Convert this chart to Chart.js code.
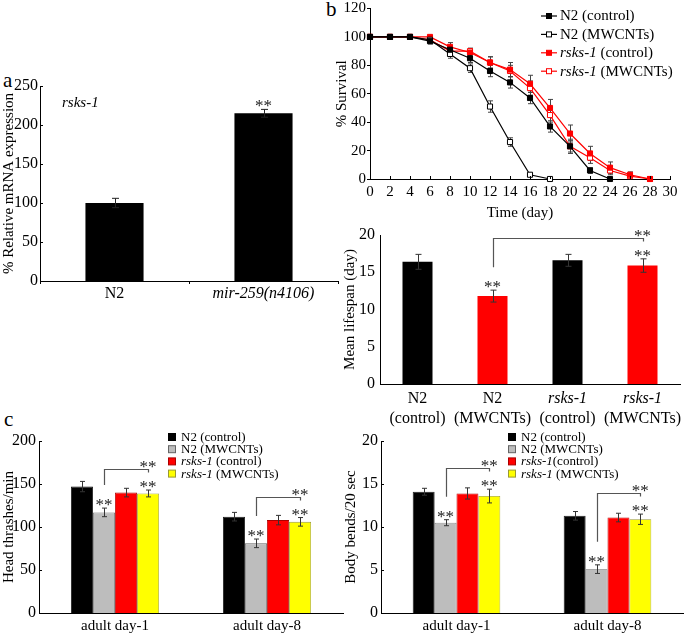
<!DOCTYPE html>
<html><head><meta charset="utf-8">
<script src="https://cdn.jsdelivr.net/npm/chart.js@4.4.1/dist/chart.umd.min.js"></script>
<style>
html,body{margin:0;padding:0;background:#fff;}
body{width:685px;height:636px;position:relative;overflow:hidden;font-family:'Liberation Serif','Times New Roman',serif;}
canvas{position:absolute;}
.lbl{position:absolute;font-size:21px;color:#000;line-height:1;}
</style></head><body>
<div class="lbl" style="left:3px;top:70px">a</div>
<div class="lbl" style="left:326px;top:-1px">b</div>
<div class="lbl" style="left:4px;top:409px">c</div>
<canvas id="cA" width="340" height="240" style="left:0;top:70px"></canvas>
<canvas id="cB1" width="352" height="222" style="left:333px;top:0"></canvas>
<canvas id="cB2" width="345" height="208" style="left:340px;top:222px"></canvas>
<canvas id="cC1" width="345" height="206" style="left:0;top:430px"></canvas>
<canvas id="cC2" width="345" height="206" style="left:340px;top:430px"></canvas>
<script>
// ---------------- DATA ----------------
// Panel a
const aCategories = ['N2', 'mir-259(n4106)'];
const aValues = [100, 215];
const aErrors = [6, 5];
const aSig = [0, 1];

// Panel b (survival curves)
const days = [0, 2, 4, 6, 8, 10, 12, 14, 16, 18, 20, 22, 24, 26, 28];
const survivalNames = ['N2 (control)', 'N2 (MWCNTs)', 'rsks-1 (control)', 'rsks-1 (MWCNTs)'];
const survN2Control    = [100, 100, 100, 97, 91, 85, 76, 68, 57, 37, 23, 6, 0];
const survN2MWCNTs     = [100, 100, 100, 98, 88, 78, 51, 26, 3, 0];
const survRsksControl  = [100, 100, 100, 100, 93, 89, 82, 77, 67, 50, 32, 18, 8, 3, 0];
const survRsksMWCNTs   = [100, 100, 100, 98, 90, 90, 82, 76, 64, 45, 23, 15, 6, 2, 0];
const errN2Control     = [0, 0, 0, 2, 3, 3, 4, 4, 4, 4, 4, 2, 0];
const errN2MWCNTs      = [0, 0, 0, 1, 3, 3, 4, 3, 1, 0];
const errRsksControl   = [0, 0, 0, 1, 3, 3, 4, 5, 6, 6, 6, 5, 4, 2, 0];
const errRsksMWCNTs    = [0, 0, 0, 2, 2, 2, 4, 4, 5, 5, 5, 4, 3, 1, 0];
const survTicks = [0, 120, 20]; // min, max, step (y)
const dayTicks = [0, 30, 2];    // min, max, step (x)

// Panel b (mean lifespan)
const lifespanCategories = [['N2', '(control)'], ['N2', '(MWCNTs)'], ['rsks-1', '(control)'], ['rsks-1', '(MWCNTs)']];
const lifespanValues = [16.4, 11.8, 16.6, 15.9];
const lifespanErrors = [1.0, 0.8, 0.8, 0.9];
const lifespanSig = [0, 1, 0, 1];
const lifespanBrackets = [[[0, 1], [0, 3]]];

// Panel c
const stages = ['adult day-1', 'adult day-8'];
const thrashNames = ['N2 (control)', 'N2 (MWCNTs)', 'rsks-1 (control)', 'rsks-1 (MWCNTs)'];
const bendNames = ['N2 (control)', 'N2 (MWCNTs)', 'rsks-1(control)', 'rsks-1 (MWCNTs)'];
const thrashN2Control   = [147, 112];
const thrashN2MWCNTs    = [117, 81];
const thrashRsksControl = [140, 108];
const thrashRsksMWCNTs  = [139, 106];
const thrashErrors = [[6, 5], [5, 5], [5, 5.5], [4, 5]];
const bendN2Control   = [14.1, 11.3];
const bendN2MWCNTs    = [10.5, 5.1];
const bendRsksControl = [13.9, 11.1];
const bendRsksMWCNTs  = [13.6, 10.9];
const bendErrors = [[0.4, 0.5], [0.35, 0.5], [0.65, 0.5], [0.8, 0.6]];
const groupSig = [[0, 0], [1, 1], [0, 0], [1, 1]];
const groupBrackets = [[[1, 0], [3, 0]], [[1, 1], [3, 1]]];

// ---------------- HELPERS ----------------
const SERIF = "'Liberation Serif','Times New Roman',serif";
const GENE = /(rsks-1|mir-259\(n4106\))/;
const GENE_T = /^(rsks-1|mir-259\(n4106\))$/;
function richParts(text) {
  return text.split(GENE).filter(s => s).map(s => ({ s, it: GENE_T.test(s) }));
}
function drawRich(ctx, text, x, y, size, align) {
  const parts = richParts(text);
  let w = 0;
  parts.forEach(p => { ctx.font = (p.it ? 'italic ' : '') + size + 'px ' + SERIF; p.w = ctx.measureText(p.s).width; w += p.w; });
  let cx = align === 'center' ? x - w / 2 : x;
  ctx.textAlign = 'left';
  ctx.textBaseline = 'middle';
  parts.forEach(p => { ctx.font = (p.it ? 'italic ' : '') + size + 'px ' + SERIF; ctx.fillText(p.s, cx, y); cx += p.w; });
}
function f(size, style) { return { family: SERIF, size, style: style || 'normal', lineHeight: 1.0 }; }
function title(text, size, pad) { return { display: true, text, color: '#000', font: { family: SERIF, size, lineHeight: 1.2 }, padding: { top: pad || 0, bottom: pad || 0 } }; }
const noGrid = { display: false, drawTicks: false, tickLength: 0 };

function errorBars(errs, color, cap, before) {
  const draw = chart => {
    const ctx = chart.ctx, ys = chart.scales.y;
    ctx.save(); ctx.strokeStyle = color; ctx.lineWidth = 1;
    chart.data.datasets.forEach((ds, i) => {
      const e = errs[i]; if (!e) return;
      chart.getDatasetMeta(i).data.forEach((el, j) => {
        const d = ds.data[j]; const v = typeof d === 'object' ? d.y : d; const err = e[j];
        if (!err) return;
        const x = Math.round(el.x) + 0.5, y1 = ys.getPixelForValue(v + err), y2 = ys.getPixelForValue(v - err);
        ctx.beginPath();
        ctx.moveTo(x, y1); ctx.lineTo(x, y2);
        ctx.moveTo(x - cap, y1); ctx.lineTo(x + cap, y1);
        ctx.moveTo(x - cap, y2); ctx.lineTo(x + cap, y2);
        ctx.stroke();
      });
    });
    ctx.restore();
  };
  return before ? { id: 'eb', beforeDatasetsDraw: draw } : { id: 'eb', afterDatasetsDraw: draw };
}

function sigMarks(sig, brackets, errs) {
  return { id: 'sig', afterDatasetsDraw(chart) {
    const ctx = chart.ctx, ys = chart.scales.y;
    const pos = (i, j) => {
      const el = chart.getDatasetMeta(i).data[j];
      const v = chart.data.datasets[i].data[j];
      return { x: el.x, top: ys.getPixelForValue(v + (errs[i][j] || 0)) };
    };
    const starY = (i, j) => pos(i, j).top - 8;
    ctx.save();
    ctx.fillStyle = '#222'; ctx.font = '17px ' + SERIF; ctx.textAlign = 'center'; ctx.textBaseline = 'alphabetic';
    sig.forEach((row, i) => row.forEach((s, j) => { if (s) ctx.fillText('**', pos(i, j).x, starY(i, j) + 10); }));
    brackets.forEach(([[i1, j1], [i2, j2]]) => {
      const a = pos(i1, j1), b = pos(i2, j2);
      const top = Math.round(starY(i2, j2) - 13) + 0.5;
      const lb = sig[i1][j1] ? starY(i1, j1) - 15 : a.top - 6;
      ctx.strokeStyle = '#555'; ctx.lineWidth = 1.2;
      ctx.beginPath();
      ctx.moveTo(Math.round(a.x) + 0.5, lb); ctx.lineTo(Math.round(a.x) + 0.5, top);
      ctx.lineTo(Math.round(b.x) + 0.5, top); ctx.lineTo(Math.round(b.x) + 0.5, top + 3);
      ctx.stroke();
      ctx.fillText('**', b.x, top - 8 + 10);
    });
    ctx.restore();
  }};
}

function inTicks(axes, len) {
  return { id: 'inticks', afterDraw(chart) {
    const ctx = chart.ctx; ctx.save(); ctx.strokeStyle = '#000'; ctx.lineWidth = 1; ctx.beginPath();
    axes.forEach(id => {
      const s = chart.scales[id];
      s.ticks.forEach((t, i) => {
        const p = Math.round(s.getPixelForTick(i)) + 0.5;
        if (s.isHorizontal()) { ctx.moveTo(p, s.top); ctx.lineTo(p, s.top - len); }
        else { ctx.moveTo(s.right, p); ctx.lineTo(s.right + len, p); }
      });
    });
    ctx.stroke(); ctx.restore();
  }};
}

function squareLegend(names, colors, borders, x, y0, dy, size) {
  return { id: 'sqleg', afterDraw(chart) {
    const ctx = chart.ctx; ctx.save();
    names.forEach((n, i) => {
      const y = y0 + i * dy;
      ctx.fillStyle = colors[i]; ctx.fillRect(x - 3.5, y - 3.5, 7, 7);
      ctx.strokeStyle = borders[i]; ctx.lineWidth = 1; ctx.strokeRect(x - 3.5, y - 3.5, 7, 7);
      ctx.fillStyle = '#000';
      drawRich(ctx, n, x + 9, y + 0.5, size, 'left');
    });
    ctx.restore();
  }};
}

// ---------------- PANEL A ----------------
new Chart(document.getElementById('cA'), {
  type: 'bar',
  data: { labels: aCategories, datasets: [{ data: aValues, backgroundColor: '#000', borderWidth: 0, barPercentage: 0.39, categoryPercentage: 1 }] },
  options: {
    responsive: false, animation: false,
    layout: { padding: { top: 16, right: 2, left: 0, bottom: 0 } },
    plugins: { legend: { display: false }, tooltip: { enabled: false } },
    scales: {
      y: { min: 0, max: 250, afterFit: s => { s.width = 40; },
        border: { display: true, color: '#000' }, grid: noGrid,
        ticks: { stepSize: 50, color: '#000', font: f(16), padding: 2 },
        title: title('% Relative mRNA expression', 15, 0) },
      x: { afterFit: s => { s.height = 29; },
        border: { display: true, color: '#000' },
        grid: { display: true, drawOnChartArea: false, drawTicks: true, tickLength: 3, color: '#000', offset: true },
        ticks: { color: '#000', padding: 2, maxRotation: 0,
          font: c => ({ family: SERIF, size: 16, lineHeight: 1, style: GENE_T.test(aCategories[c.index] || '') ? 'italic' : 'normal' }) } }
    }
  },
  plugins: [errorBars([aErrors], '#222', 3.5, false), sigMarks([aSig], [], [aErrors]), inTicks(['y'], 3),
    { id: 'gene', afterDraw(chart) { const ctx = chart.ctx; ctx.save(); ctx.fillStyle = '#000'; drawRich(ctx, 'rsks-1', chart.chartArea.left + 22, chart.chartArea.top + 17, 15, 'left'); ctx.restore(); } }]
});

// ---------------- PANEL B (survival) ----------------
const survSeries = [survN2Control, survN2MWCNTs, survRsksControl, survRsksMWCNTs];
const survErrs = [errN2Control, errN2MWCNTs, errRsksControl, errRsksMWCNTs];
const survColors = ['#000', '#000', '#ff0000', '#ff0000'];
const survFilled = [true, false, true, false];
new Chart(document.getElementById('cB1'), {
  type: 'line',
  data: { datasets: survSeries.map((s, i) => ({
    label: survivalNames[i],
    data: s.map((v, k) => ({ x: days[k], y: v })),
    borderColor: survColors[i], borderWidth: 1.2, tension: 0, clip: false,
    pointStyle: 'rect', pointRadius: 3.6, pointBorderWidth: 1,
    pointBorderColor: survColors[i], pointBackgroundColor: survFilled[i] ? survColors[i] : '#fff'
  })) },
  options: {
    responsive: false, animation: false,
    layout: { padding: { top: 8, right: 15, left: 0, bottom: 0 } },
    plugins: { legend: { display: false }, tooltip: { enabled: false } },
    scales: {
      y: { min: survTicks[0], max: survTicks[1], afterFit: s => { s.width = 37; },
        border: { display: true, color: '#000' },
        grid: { display: true, drawOnChartArea: false, drawTicks: true, tickLength: 3, color: '#000' },
        ticks: { stepSize: survTicks[2], color: '#000', font: f(15), padding: 1 },
        title: title('% Survival', 15, 0) },
      x: { type: 'linear', min: dayTicks[0], max: dayTicks[1], afterFit: s => { s.height = 43; },
        border: { display: true, color: '#000' }, grid: noGrid,
        ticks: { stepSize: dayTicks[2], color: '#000', font: f(15), padding: 6, maxRotation: 0, minRotation: 0, autoSkip: false },
        title: title('Time (day)', 15, 0) }
    }
  },
  plugins: [errorBars(survErrs, '#444', 2.5, true), inTicks(['x'], 3),
    { id: 'lineleg', afterDraw(chart) {
      const ctx = chart.ctx; ctx.save();
      survivalNames.forEach((n, i) => {
        const y = 16 + i * 18.4, x0 = 208, x1 = 224, xm = 216;
        ctx.strokeStyle = survColors[i]; ctx.lineWidth = 1.2;
        ctx.beginPath(); ctx.moveTo(x0, y); ctx.lineTo(x1, y); ctx.stroke();
        ctx.fillStyle = survFilled[i] ? survColors[i] : '#fff';
        ctx.fillRect(xm - 2.5, y - 2.5, 5, 5); ctx.lineWidth = 1; ctx.strokeRect(xm - 2.5, y - 2.5, 5, 5);
        ctx.fillStyle = '#000';
        drawRich(ctx, n, 227, y + 0.5, 15, 'left');
      });
      ctx.restore();
    } }]
});

// ---------------- PANEL B (mean lifespan) ----------------
new Chart(document.getElementById('cB2'), {
  type: 'bar',
  data: { labels: lifespanCategories.map(l => l.join(' ')), datasets: [{ data: lifespanValues,
    backgroundColor: ['#000', '#ff0000', '#000', '#ff0000'], borderWidth: 0, barPercentage: 0.4, categoryPercentage: 1 }] },
  options: {
    responsive: false, animation: false,
    layout: { padding: { top: 7, right: 5, left: 0, bottom: 0 } },
    plugins: { legend: { display: false }, tooltip: { enabled: false } },
    scales: {
      y: { min: 0, max: 20, afterFit: s => { s.width = 40; },
        border: { display: true, color: '#000' }, grid: noGrid,
        ticks: { stepSize: 5, color: '#000', font: f(16), padding: 5 },
        title: title('Mean lifespan (day)', 15, 1) },
      x: { afterFit: s => { s.height = 46; },
        border: { display: true, color: '#000' }, grid: noGrid,
        ticks: { display: false } }
    }
  },
  plugins: [errorBars([lifespanErrors], '#333', 3, false), sigMarks([lifespanSig], lifespanBrackets, [lifespanErrors]),
    { id: 'xlabels', afterDraw(chart) {
      const ctx = chart.ctx, xs = chart.scales.x; ctx.save(); ctx.fillStyle = '#000';
      lifespanCategories.forEach((lines, i) => {
        const x = xs.getPixelForValue(i);
        lines.forEach((ln, k) => drawRich(ctx, ln, x, chart.chartArea.bottom + 15 + k * 20, 16, 'center'));
      });
      ctx.restore();
    } }]
});

// ---------------- PANEL C ----------------
const groupColors = ['#000000', '#bdbdbd', '#ff0000', '#ffff00'];
const groupBorders = ['#000000', '#666666', '#aa0000', '#999933'];
function groupChart(id, names, series, errs, ymax, ystep, ytitle, yWidth, padTop) {
  new Chart(document.getElementById(id), {
    type: 'bar',
    data: { labels: stages, datasets: series.map((s, i) => ({ label: names[i], data: s,
      backgroundColor: groupColors[i], borderColor: groupBorders[i], borderWidth: 0.8,
      barPercentage: 1, categoryPercentage: 0.58 })) },
    options: {
      responsive: false, animation: false,
      layout: { padding: { top: padTop, right: 2, left: 0, bottom: 0 } },
      plugins: { legend: { display: false }, tooltip: { enabled: false } },
      scales: {
        y: { min: 0, max: ymax, afterFit: s => { s.width = yWidth; },
          border: { display: true, color: '#000' }, grid: noGrid,
          ticks: { stepSize: ystep, color: '#000', font: f(16), padding: 3 },
          title: title(ytitle, 15, yWidth > 40 ? 2 : 0) },
        x: { afterFit: s => { s.height = 23; },
          border: { display: true, color: '#000' }, grid: noGrid,
          ticks: { color: '#000', font: f(15), padding: 6, maxRotation: 0 } }
      }
    },
    plugins: [errorBars(errs, '#333', 2.5, false), sigMarks(groupSig, groupBrackets, errs), inTicks(['y'], 3),
      squareLegend(names, groupColors, groupBorders, 172, 7, 12.2, 13)]
  });
}
groupChart('cC1', thrashNames, [thrashN2Control, thrashN2MWCNTs, thrashRsksControl, thrashRsksMWCNTs], thrashErrors, 200, 50, 'Head thrashes/min', 39, 8);
groupChart('cC2', bendNames, [bendN2Control, bendN2MWCNTs, bendRsksControl, bendRsksMWCNTs], bendErrors, 20, 5, 'Body bends/20 sec', 41, 9);
</script>
</body></html>
